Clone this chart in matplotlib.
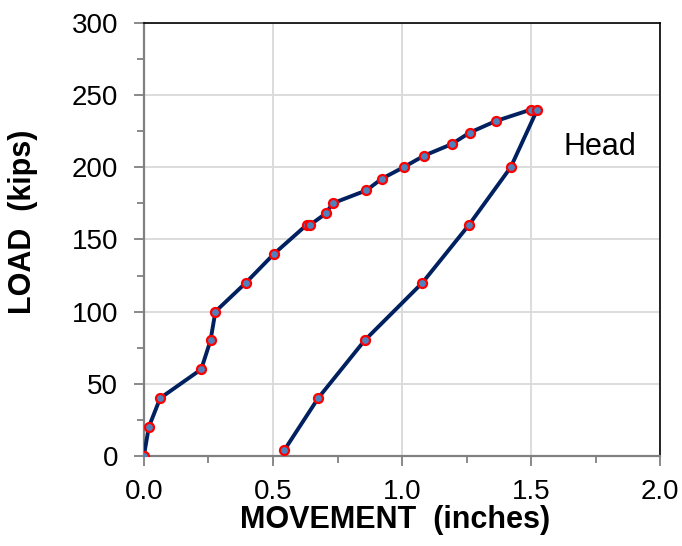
import matplotlib
matplotlib.use("Agg")
import matplotlib.pyplot as plt
from matplotlib.ticker import MultipleLocator

# load-movement readings at the pile head
movement = [0.0, 0.019, 0.063, 0.222, 0.258, 0.277, 0.395, 0.504, 0.630, 0.643,
            0.705, 0.731, 0.862, 0.921, 1.006, 1.085, 1.192, 1.262, 1.363, 1.500,
            1.524, 1.421, 1.259, 1.079, 0.855, 0.675, 0.544]
load = [0, 20, 40, 60, 80, 100, 120, 140, 160, 160,
        168, 175, 184, 192, 200, 208, 216, 224, 232, 240,
        240, 200, 160, 120, 80, 40, 4]

plt.rcParams['font.family'] = ['Liberation Sans', 'DejaVu Sans']

fig = plt.figure(figsize=(6.82, 5.46), dpi=100)
ax = fig.add_axes([0.211, 0.165, 0.757, 0.793])

ax.plot(movement, load, color='#002060', linewidth=2.8, marker='o',
        markersize=6.5, markerfacecolor='#4F81BD', markeredgecolor='#FF0000',
        markeredgewidth=1.6, zorder=3)

ax.set_xlim(0, 2.0)
ax.set_ylim(0, 300)
ax.xaxis.set_major_locator(MultipleLocator(0.5))
ax.xaxis.set_minor_locator(MultipleLocator(0.25))
ax.yaxis.set_major_locator(MultipleLocator(50))
ax.yaxis.set_minor_locator(MultipleLocator(25))
ax.set_xticklabels([f"{v:.1f}" for v in ax.get_xticks()])
ax.grid(True, which='major', color='#D9D9D9', linewidth=1.3, zorder=0)
ax.set_axisbelow(True)

for s in ['left', 'bottom']:
    ax.spines[s].set_color('#808080')
    ax.spines[s].set_linewidth(1.6)
for s in ['top', 'right']:
    ax.spines[s].set_color('black')
    ax.spines[s].set_linewidth(1.2)

ax.tick_params(which='both', direction='out', color='#808080', width=1.3,
               labelsize=20)
ax.tick_params(which='major', length=7.5)
ax.tick_params(which='minor', length=5)
ax.tick_params(axis='x', which='major', pad=9)
ax.tick_params(axis='y', which='major', pad=11)

# axis titles placed as figure text
fig.text(0.58, 0.033, 'MOVEMENT  (inches)', fontsize=22, fontweight='bold',
         ha='center', va='baseline')
fig.text(0.034, 0.594, 'LOAD  (kips)', fontsize=22, fontweight='bold',
         ha='center', va='center', rotation=90)

ax.text(1.625, 214, 'Head', fontsize=22, va='center', ha='left')

fig.savefig('out.png', dpi=100)
